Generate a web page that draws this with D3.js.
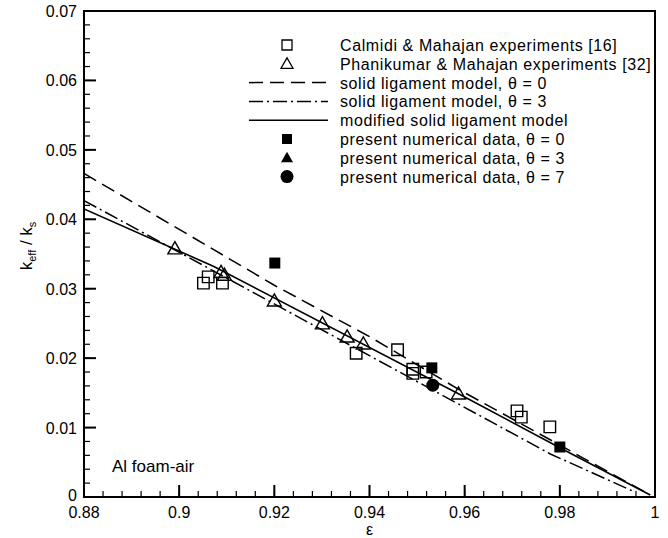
<!DOCTYPE html>
<html>
<head>
<meta charset="utf-8">
<script src="https://cdn.jsdelivr.net/npm/d3@7"></script>
<style>
  body { margin: 0; background: #fff; }
  text { font-family: "Liberation Sans", Arial, sans-serif; fill: #000; }
</style>
</head>
<body>
<div id="chart"></div>
<script>
// Calmidi & Mahajan experiments (open squares)
const calmidiEps = [0.9051, 0.9061, 0.9091, 0.9372, 0.9459, 0.9491, 0.9491, 0.9519, 0.9710, 0.9719, 0.9779];
const calmidiK   = [0.0308, 0.0317, 0.0308, 0.0207, 0.0212, 0.0184, 0.0178, 0.0180, 0.0124, 0.0115, 0.0101];
// Phanikumar & Mahajan experiments (open triangles)
const phaniEps = [0.8991, 0.9088, 0.9095, 0.9200, 0.9301, 0.9353, 0.9387, 0.9587];
const phaniK   = [0.0356, 0.0322, 0.0318, 0.0281, 0.0248, 0.0229, 0.0219, 0.0147];
// solid ligament model, theta = 0 (dashed)
const theta0Eps = [0.88, 0.92, 0.94, 0.959, 0.999];
const theta0K   = [0.0466, 0.0305, 0.0231, 0.0154, 0.0003];
// solid ligament model, theta = 3 (dash-dot)
const theta3Eps = [0.88, 0.978, 0.9955];
const theta3K   = [0.0427, 0.0062, 0.0008];
// modified solid ligament model (solid)
const modEps = [0.88, 0.9073, 0.96, 0.98, 0.999];
const modK   = [0.0415, 0.0332, 0.0144, 0.0071, 0.0003];
// present numerical data
const num0Eps = [0.9201, 0.9531, 0.9800];
const num0K   = [0.0337, 0.0186, 0.0072];
const num7Eps = [0.9533];
const num7K   = [0.0161];

const xTicks = [0.88, 0.9, 0.92, 0.94, 0.96, 0.98, 1];
const yTicks = [0, 0.01, 0.02, 0.03, 0.04, 0.05, 0.06, 0.07];

const width = 668, height = 538;
const margin = { top: 11, right: 13, bottom: 41, left: 84 };

const svg = d3.select("#chart").append("svg")
  .attr("width", width).attr("height", height);

const x = d3.scaleLinear().domain([0.88, 1]).range([margin.left, width - margin.right]);
const y = d3.scaleLinear().domain([0, 0.07]).range([height - margin.bottom, margin.top]);

const zip = (a, b) => a.map((v, i) => [v, b[i]]);
const line = d3.line().x(d => x(d[0])).y(d => y(d[1]));

const plot = svg.append("g");
plot.append("clipPath").attr("id", "clip").append("rect")
  .attr("x", x(0.88)).attr("y", y(0.07))
  .attr("width", x(1) - x(0.88)).attr("height", y(0) - y(0.07));

// lines
const lines = plot.append("g").attr("clip-path", "url(#clip)");
lines.append("path").attr("d", line(zip(theta0Eps, theta0K)))
  .attr("fill", "none").attr("stroke", "#000").attr("stroke-width", 1.5)
  .attr("stroke-dasharray", "14,7");
lines.append("path").attr("d", line(zip(theta3Eps, theta3K)))
  .attr("fill", "none").attr("stroke", "#000").attr("stroke-width", 1.5)
  .attr("stroke-dasharray", "14,4,2,4");
lines.append("path").attr("d", line(zip(modEps, modK)))
  .attr("fill", "none").attr("stroke", "#000").attr("stroke-width", 1.6);

// symbols
const sq = (s) => `M${-s/2},${-s/2}h${s}v${s}h${-s}Z`;
const tri = (s) => `M0,${-s*0.58}L${s/2},${s*0.29}L${-s/2},${s*0.29}Z`;

plot.selectAll(".calmidi").data(zip(calmidiEps, calmidiK)).enter().append("path")
  .attr("d", sq(11.5)).attr("transform", d => `translate(${x(d[0])},${y(d[1])})`)
  .attr("fill", "none").attr("stroke", "#000").attr("stroke-width", 1.4);
plot.selectAll(".phani").data(zip(phaniEps, phaniK)).enter().append("path")
  .attr("d", tri(14)).attr("transform", d => `translate(${x(d[0])},${y(d[1])})`)
  .attr("fill", "none").attr("stroke", "#000").attr("stroke-width", 1.4);
plot.selectAll(".num0").data(zip(num0Eps, num0K)).enter().append("path")
  .attr("d", sq(11)).attr("transform", d => `translate(${x(d[0])},${y(d[1])})`)
  .attr("fill", "#000");
plot.selectAll(".num7").data(zip(num7Eps, num7K)).enter().append("circle")
  .attr("cx", d => x(d[0])).attr("cy", d => y(d[1])).attr("r", 6.5)
  .attr("fill", "#000");

// axes frame
const x0 = x(0.88), x1 = x(1), y0 = y(0), y1 = y(0.07);
svg.append("rect").attr("x", x0).attr("y", y1).attr("width", x1 - x0).attr("height", y0 - y1)
  .attr("fill", "none").attr("stroke", "#000").attr("stroke-width", 2);

// ticks (inward)
const xMinor = d3.range(0, 31).map(i => 0.88 + i * 0.004);
const yMinor = d3.range(0, 36).map(i => i * 0.002);
const tk = svg.append("g").attr("stroke", "#000").attr("stroke-width", 1.2);
xMinor.forEach(v => tk.append("line").attr("x1", x(v)).attr("x2", x(v)).attr("y1", y0).attr("y2", y0 - 6));
yMinor.forEach(v => tk.append("line").attr("x1", x0).attr("x2", x0 + 6).attr("y1", y(v)).attr("y2", y(v)));
xTicks.forEach(v => tk.append("line").attr("x1", x(v)).attr("x2", x(v)).attr("y1", y0).attr("y2", y0 - 12).attr("stroke-width", 2));
yTicks.forEach(v => tk.append("line").attr("x1", x0).attr("x2", x0 + 12).attr("y1", y(v)).attr("y2", y(v)).attr("stroke-width", 2));

// tick labels
svg.selectAll(".xl").data(xTicks).enter().append("text")
  .attr("x", d => x(d)).attr("y", y0 + 21).attr("text-anchor", "middle")
  .attr("font-size", 16).text(d => d3.format("~g")(d));
svg.selectAll(".yl").data(yTicks).enter().append("text")
  .attr("x", x0 - 7).attr("y", d => y(d) + (d === 0 ? 4 : 6)).attr("text-anchor", "end")
  .attr("font-size", 16).text(d => d3.format("~g")(d));

// axis titles
svg.append("text").attr("x", (x0 + x1) / 2).attr("y", 535).attr("text-anchor", "middle")
  .attr("font-size", 16).text("ε");
const yt = svg.append("text").attr("transform", "translate(32,246) rotate(-90)")
  .attr("text-anchor", "middle").attr("font-size", 17);
yt.append("tspan").text("k");
yt.append("tspan").attr("font-size", 11).attr("dy", 4).text("eff");
yt.append("tspan").attr("dy", -4).text(" / k");
yt.append("tspan").attr("font-size", 11).attr("dy", 4).text("s");

svg.append("text").attr("x", 112).attr("y", 472).attr("font-size", 17).text("Al foam-air");

// legend
const legendItems = [
  { label: "Calmidi & Mahajan experiments [16]", type: "sq-open" },
  { label: "Phanikumar & Mahajan experiments [32]", type: "tri-open" },
  { label: "solid ligament model, θ = 0", type: "dash" },
  { label: "solid ligament model, θ = 3", type: "dashdot" },
  { label: "modified solid ligament model", type: "solid" },
  { label: "present numerical data, θ = 0", type: "sq-fill" },
  { label: "present numerical data, θ = 3", type: "tri-fill" },
  { label: "present numerical data, θ = 7", type: "circle" }
];
const lg = svg.append("g");
legendItems.forEach((d, i) => {
  const cy = 45 + i * 18.8;
  const sx = 287;
  if (d.type === "sq-open") lg.append("path").attr("d", sq(10)).attr("transform", `translate(${sx},${cy})`).attr("fill", "none").attr("stroke", "#000").attr("stroke-width", 1.3);
  if (d.type === "tri-open") lg.append("path").attr("d", tri(12)).attr("transform", `translate(${sx},${cy + 1})`).attr("fill", "none").attr("stroke", "#000").attr("stroke-width", 1.3);
  if (d.type === "sq-fill") lg.append("path").attr("d", sq(10)).attr("transform", `translate(${sx},${cy})`).attr("fill", "#000");
  if (d.type === "tri-fill") lg.append("path").attr("d", tri(12)).attr("transform", `translate(${sx},${cy + 1})`).attr("fill", "#000");
  if (d.type === "circle") lg.append("circle").attr("cx", sx).attr("cy", cy).attr("r", 6.5).attr("fill", "#000");
  if (d.type === "dash" || d.type === "dashdot" || d.type === "solid") {
    lg.append("line").attr("x1", 249).attr("x2", 328).attr("y1", cy).attr("y2", cy)
      .attr("stroke", "#000").attr("stroke-width", 1.5)
      .attr("stroke-dasharray", d.type === "dash" ? "14,7" : d.type === "dashdot" ? "14,4,2,4" : null);
  }
  lg.append("text").attr("x", 340).attr("y", cy + 6).attr("font-size", 16)
    .attr("letter-spacing", 0.6).text(d.label);
});
</script>
</body>
</html>
